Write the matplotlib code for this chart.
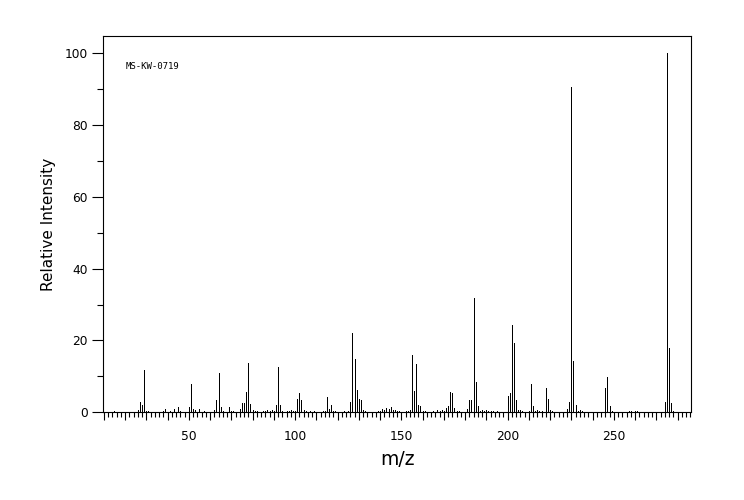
import matplotlib
matplotlib.use('Agg')
import matplotlib.pyplot as plt
from matplotlib.ticker import MultipleLocator, FuncFormatter

# peak list (m/z, relative intensity %)
mz = [15, 26, 27, 28, 29, 30, 31, 38, 39, 41, 43, 45, 46, 50, 51, 52, 53, 55, 57,
      62, 63, 64, 65, 66, 69, 70, 71, 74, 75, 76, 77, 78, 79, 80, 81, 82, 85, 86,
      87, 88, 89, 90, 91, 92, 93, 94, 96, 97, 98, 99, 100, 101, 102, 103, 104, 105,
      107, 109, 113, 114, 115, 116, 117, 118, 119, 123, 125, 126, 127, 128, 129,
      130, 131, 132, 133, 139, 140, 141, 142, 143, 144, 145, 146, 147, 148, 149,
      152, 153, 154, 155, 156, 157, 158, 159, 160, 161, 165, 167, 168, 169, 170,
      171, 172, 173, 174, 175, 176, 177, 181, 182, 183, 184, 185, 186, 187, 188,
      189, 190, 191, 192, 193, 195, 200, 201, 202, 203, 204, 205, 206, 207, 210,
      211, 212, 213, 214, 215, 216, 218, 219, 220, 221, 228, 229, 230, 231, 232,
      233, 234, 235, 246, 247, 248, 249, 257, 258, 260, 261, 274, 275, 276, 277, 278]
intensity = [0.4, 0.7, 2.9, 2.0, 11.8, 0.4, 0.4, 0.4, 1.0, 0.5, 0.9, 1.5, 0.4, 1.5, 7.9, 0.9, 0.6, 0.9, 0.4,
             0.6, 3.4, 11.0, 1.5, 0.4, 1.5, 0.4, 0.4, 0.9, 2.6, 2.6, 5.7, 13.7, 2.3, 0.6, 0.4, 0.4, 0.4, 0.4,
             0.65, 0.4, 0.6, 0.4, 2.0, 12.6, 2.0, 0.4, 0.4, 0.4, 0.6, 0.4, 0.4, 3.7, 5.4, 3.4, 0.6, 0.4,
             0.4, 0.4, 0.4, 0.4, 4.3, 0.9, 2.0, 0.4, 0.4, 0.4, 0.4, 2.9, 22.1, 14.9, 6.2,
             3.7, 3.4, 0.6, 0.4, 0.4, 0.4, 0.9, 0.6, 1.2, 0.9, 1.5, 0.6, 0.6, 0.4, 0.4,
             0.4, 0.4, 0.6, 16.0, 5.9, 13.5, 2.0, 1.8, 0.4, 0.4, 0.4, 0.6, 0.4, 0.6, 0.4,
             1.2, 1.8, 5.7, 5.4, 1.2, 0.4, 0.4, 0.9, 3.4, 3.4, 31.8, 8.4, 1.8, 0.4, 0.6,
             0.4, 0.6, 0.4, 0.4, 0.4, 0.4, 4.5, 5.4, 24.3, 19.2, 3.4, 0.65, 0.65, 0.4, 0.4,
             7.9, 1.8, 0.4, 0.65, 0.4, 0.4, 6.8, 3.7, 0.65, 0.4, 0.9, 2.9, 90.5, 14.3, 2.0,
             0.4, 0.65, 0.4, 6.8, 9.8, 1.8, 0.4, 0.4, 0.4, 0.4, 0.4, 2.9, 100.0, 17.9, 2.6, 0.4]

spectrum_id = 'MS-KW-0719'

fig = plt.figure(figsize=(7.44, 5.0), dpi=100)
ax = fig.add_axes([0.1384, 0.1754, 0.7908, 0.7526])

# 1 px hard-edged sticks like the original
ax.vlines(mz, 0, intensity, colors='black', linewidth=0.7, antialiased=False)

ax.set_xlim(9.6, 286.5)
ax.set_ylim(0, 104.8)

for s in ax.spines.values():
    s.set_linewidth(0.8)

# x: small tick every 2, longer every 10, labels every 50
ax.xaxis.set_major_locator(MultipleLocator(10))
ax.xaxis.set_minor_locator(MultipleLocator(2))
ax.xaxis.set_major_formatter(FuncFormatter(lambda v, p: '%d' % v if int(round(v)) % 50 == 0 else ''))
ax.tick_params(axis='x', which='major', length=5.5, width=0.8, pad=7, labelsize=8.8)
ax.tick_params(axis='x', which='minor', length=3.8, width=0.8)

ax.yaxis.set_major_locator(MultipleLocator(20))
ax.yaxis.set_minor_locator(MultipleLocator(10))
ax.tick_params(axis='y', which='major', length=8, width=0.8, pad=3, labelsize=8.8)
ax.tick_params(axis='y', which='minor', length=4.3, width=0.8)

ax.set_xlabel('m/z', fontsize=13.5)
ax.xaxis.set_label_coords(0.5, -0.1)
ax.set_ylabel('Relative Intensity', fontsize=11)
ax.yaxis.set_label_coords(-0.08, 0.5)

ax.text(0.039, 0.919, spectrum_id, transform=ax.transAxes, ha='left', va='center',
        fontsize=6.5, family='DejaVu Sans Mono')

fig.savefig('out.png', dpi=100)
